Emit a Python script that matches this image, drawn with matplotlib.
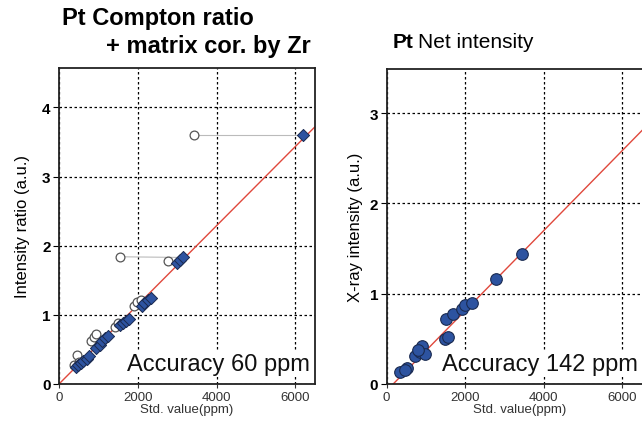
import matplotlib
matplotlib.use("Agg")
import matplotlib.pyplot as plt
import numpy as np

plt.rcParams['font.family'] = ['Liberation Sans', 'DejaVu Sans']

# Left panel: Compton ratio + matrix correction
left_fill_x = [420, 480, 560, 620, 700, 760, 950, 1030, 1100, 1170, 1250,
               1550, 1620, 1700, 1780, 2100, 2170, 2250, 2330, 3000, 3080, 3150, 6200]
left_fill_y = [0.25, 0.28, 0.30, 0.33, 0.36, 0.40, 0.52, 0.57, 0.62, 0.66, 0.70,
               0.85, 0.88, 0.91, 0.94, 1.13, 1.17, 1.21, 1.24, 1.75, 1.79, 1.83, 3.60]
left_open_x = [380, 450, 520, 800, 880, 950, 1420, 1500, 1900, 1980, 2080, 1550, 2780, 3440]
left_open_y = [0.28, 0.42, 0.32, 0.62, 0.68, 0.72, 0.83, 0.88, 1.13, 1.18, 1.22, 1.84, 1.78, 3.60]
left_link_x = [[1550, 3150], [3440, 6200]]
left_link_y = [[1.84, 1.83], [3.60, 3.60]]
left_fit_x = [0, 6500]
left_fit_y = [0.0, 3.72]

# Right panel: net intensity
right_x = [343, 530, 480, 725, 850, 895, 980, 800, 1490, 1573, 1515, 1700, 1913, 2000, 2165, 2780, 3440]
right_y = [0.13, 0.18, 0.16, 0.31, 0.35, 0.42, 0.33, 0.38, 0.50, 0.52, 0.72, 0.78, 0.83, 0.87, 0.90, 1.16, 1.44]
right_fit_x = [170, 7000]
right_fit_y = [0.0, 3.03]

blue = '#2D53A0'
edge = '#1A2A50'
red = '#E0483C'

fig = plt.figure(figsize=(6.42, 4.27), dpi=100)

def style(ax, xmax, ymax, yticks):
    ax.set_xlim(0, xmax)
    ax.set_ylim(0, ymax)
    ax.set_xticks([0, 2000, 4000, 6000])
    ax.set_yticks(yticks)
    ax.grid(True, color='black', linestyle=(0, (2, 2)), linewidth=0.9)
    ax.set_axisbelow(True)
    for s in ax.spines.values():
        s.set_linewidth(1.3)
        s.set_color('#222222')
    ax.tick_params(axis='x', labelsize=9.5, colors='#333333', length=3, pad=2)
    ax.tick_params(axis='y', labelsize=11, length=4, pad=2)
    for lab in ax.get_yticklabels():
        lab.set_fontweight('bold')
    ax.set_xlabel('Std. value(ppm)', fontsize=9.5, color='#333333', labelpad=0)

# Left axes
ax1 = fig.add_axes([59/642, 42/427, 256/642, 316/427])
style(ax1, 6500, 4.57, [0, 1, 2, 3, 4])
ax1.plot(left_fit_x, left_fit_y, color=red, lw=1.0, zorder=2)
for lx, ly in zip(left_link_x, left_link_y):
    ax1.plot(lx, ly, color='#BBBBBB', lw=0.8, zorder=1)
ax1.scatter(left_open_x, left_open_y, s=40, facecolor='white', edgecolor='#555555',
            linewidth=0.9, zorder=3)
ax1.scatter(left_fill_x, left_fill_y, s=38, marker='D', facecolor=blue, edgecolor=edge,
            linewidth=0.7, zorder=4)
ax1.set_ylabel('Intensity ratio (a.u.)', fontsize=12, labelpad=9)
ax1.text(0.98, 0.03, 'Accuracy 60 ppm', transform=ax1.transAxes, ha='right', va='bottom',
         fontsize=17, color='#111111',
         bbox=dict(facecolor='white', edgecolor='none', pad=1))

fig.text(62/642, 1 - 19/427, 'Pt Compton ratio', fontsize=17, fontweight='bold',
         ha='left', va='center')
fig.text(106/642, 1 - 47/427, '+ matrix cor. by Zr', fontsize=17, fontweight='bold',
         ha='left', va='center')

# Right axes
ax2 = fig.add_axes([386.5/642, 42/427, 6800*0.0393/642, 315/427])
style(ax2, 6800, 3.49, [0, 1, 2, 3])
ax2.plot(right_fit_x, right_fit_y, color=red, lw=1.0, zorder=2)
ax2.scatter(right_x, right_y, s=70, marker='o', facecolor=blue, edgecolor=edge,
            linewidth=0.8, zorder=4)
ax2.set_ylabel('X-ray intensity (a.u.)', fontsize=12, labelpad=5)
ax2.text(0.94, 0.03, 'Accuracy 142 ppm', transform=ax2.transAxes, ha='right', va='bottom',
         fontsize=17, color='#111111',
         bbox=dict(facecolor='white', edgecolor='none', pad=1))

fig.text(393/642, 1 - 43/427, 'Pt', fontsize=15, fontweight='bold', ha='left', va='center')
fig.text(418/642, 1 - 43/427, 'Net intensity', fontsize=15, ha='left', va='center')

fig.savefig('out.png', dpi=100)
